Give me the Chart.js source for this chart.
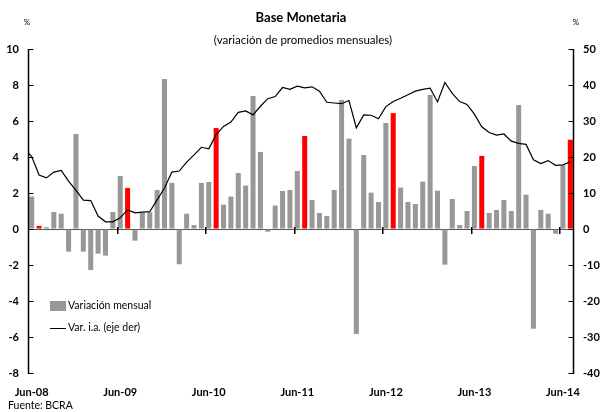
<!DOCTYPE html>
<html lang="es">
<head>
  <meta charset="UTF-8">
  <title>Base Monetaria</title>
  <script src="https://cdn.jsdelivr.net/npm/chart.js"></script>
  <style>
    html, body { margin: 0; padding: 0; background: #fff; }
    canvas { display: block; }
  </style>
</head>
<body>
  <canvas id="bmChart" width="603" height="412"></canvas>

<script>
  // tick labels, one every 12 months
  const tickLabels = ['Jun-08', 'Jun-09', 'Jun-10', 'Jun-11', 'Jun-12', 'Jun-13', 'Jun-14'];

  // monthly change (%), left axis
  const variacionMensual = [
    1.8, 0.17, 0.1, 0.94, 0.85, -1.26, 5.28, -1.26, -2.28, -1.37, -1.48, 0.94,
    2.94, 2.28, -0.65, 0.9, 0.93, 2.17, 8.33, 2.56, -1.96, 0.85, 0.22, 2.56,
    2.61, 5.61, 1.35, 1.8, 3.11, 2.41, 7.39, 4.28, -0.15, 1.3, 2.11, 2.17,
    3.22, 5.17, 1.61, 0.89, 0.72, 2.17, 7.17, 5.02, -5.83, 4.11, 2.02, 1.5,
    5.89, 6.44, 2.3, 1.5, 1.39, 2.63, 7.44, 2.13, -1.98, 1.67, 0.22, 1.0,
    3.5, 4.06, 0.89, 1.06, 1.61, 1.0, 6.89, 1.91, -5.54, 1.06, 0.85, -0.26,
    3.54, 4.96
  ];

  // year-on-year change (%), right axis; first value is the month before the first bar
  const varInteranual = [
    22.3,
    20.1, 15.0, 14.2, 15.8, 16.3, 13.3, 10.7, 8.0, 7.9, 3.6, 2.0, 2.0,
    3.1, 5.3, 4.5, 4.7, 4.8, 8.1, 11.4, 15.8, 16.1, 18.6, 20.6, 22.7,
    22.3, 26.2, 28.5, 29.7, 32.4, 32.8, 31.7, 34.1, 36.2, 36.8, 39.3, 38.8,
    39.7, 39.2, 39.5, 38.3, 35.2, 35.0, 34.8, 35.7, 28.1, 31.7, 31.6, 30.6,
    34.0, 35.4, 36.3, 37.3, 38.3, 38.8, 39.1, 35.3, 40.7, 37.7, 35.4, 34.6,
    31.9, 28.4, 26.8, 26.1, 26.4, 24.4, 23.8, 23.5, 19.2, 18.2, 19.0, 17.7,
    17.8, 18.7
  ];

  // months drawn in red
  const destacados = [1, 13, 25, 37, 49, 61, 73];

  const FONT = 'Lato, "Open Sans", sans-serif';
  const GRAY = '#989898';
  const RED = '#ff0000';

  const barData = variacionMensual.map((v, i) => ({ x: i + 0.5, y: v }));
  const lineData = varInteranual.map((v, i) => ({ x: i - 0.5, y: v }));
  const barColors = variacionMensual.map((v, i) => destacados.includes(i) ? RED : GRAY);

  const decor = {
    id: 'decor',
    afterDraw(chart) {
      const { ctx, chartArea: a, scales } = chart;
      ctx.save();
      ctx.fillStyle = '#000';
      ctx.textBaseline = 'middle';

      // titles
      ctx.textAlign = 'center';
      ctx.font = 'bold 13px ' + FONT;
      ctx.fillText('Base Monetaria', 301, 18);
      ctx.font = '11.5px ' + FONT;
      ctx.fillText('(variación de promedios mensuales)', 303, 40);
      ctx.font = '8px ' + FONT;
      ctx.fillText('%', 27, 22);
      ctx.fillText('%', 576, 22);

      ctx.textAlign = 'left';
      ctx.font = '10.5px ' + FONT;
      ctx.fillText('Fuente: BCRA', 8, 406);

      // axis lines
      const xl = Math.round(a.left) + 0.5, xr = Math.round(a.right) - 0.5;
      ctx.strokeStyle = '#000';
      ctx.lineWidth = 1.5;
      ctx.beginPath();
      ctx.moveTo(xl, a.top); ctx.lineTo(xl, a.bottom + 1);
      ctx.moveTo(xr, a.top); ctx.lineTo(xr, a.bottom + 1);
      ctx.stroke();

      // inside tick marks
      scales.y.ticks.forEach(t => {
        ctx.fillRect(xl, Math.round(scales.y.getPixelForValue(t.value)), 5, 1);
      });
      scales.y2.ticks.forEach(t => {
        ctx.fillRect(xr - 5, Math.round(scales.y2.getPixelForValue(t.value)), 5, 1);
      });
      // year marks on the zero line
      const y0 = Math.round(scales.y.getPixelForValue(0));
      for (let k = 1; k < tickLabels.length; k++) {
        ctx.fillRect(Math.round(scales.x.getPixelForValue(k * 12)), y0 - 2, 1.5, 7);
      }

      // legend
      const lx = a.left + 22, ly = a.top + 257;
      ctx.fillStyle = GRAY;
      ctx.fillRect(lx, ly - 5, 16, 10);
      ctx.fillStyle = '#000';
      ctx.fillRect(lx, ly + 22, 16, 1);
      ctx.font = '10.5px ' + FONT;
      ctx.fillText(chart.data.datasets[1].label, lx + 18, ly);
      ctx.fillText(chart.data.datasets[0].label, lx + 18, ly + 22);

      ctx.restore();
    }
  };

  new Chart(document.getElementById('bmChart'), {
    type: 'bar',
    data: {
      datasets: [
        {
          type: 'line',
          label: 'Var. i.a. (eje der)',
          data: lineData,
          yAxisID: 'y2',
          borderColor: '#000',
          borderWidth: 1.2,
          pointRadius: 0,
          tension: 0,
          fill: false
        },
        {
          label: 'Variación mensual',
          data: barData,
          yAxisID: 'y',
          backgroundColor: barColors,
          categoryPercentage: 1,
          barPercentage: 0.68
        }
      ]
    },
    options: {
      responsive: false,
      animation: false,
      devicePixelRatio: 1,
      layout: { padding: { top: 49, left: 0, right: 0, bottom: 0 } },
      plugins: {
        legend: { display: false },
        title: { display: false },
        tooltip: { enabled: false }
      },
      scales: {
        x: {
          type: 'linear',
          min: 0,
          max: 74,
          offset: false,
          afterFit: s => { s.height = 39; },
          afterBuildTicks: s => { s.ticks = tickLabels.map((l, k) => ({ value: k * 12 + 0.5 })); },
          grid: { display: false, drawTicks: false },
          border: { display: false },
          ticks: {
            autoSkip: false,
            maxRotation: 0,
            padding: 13,
            color: '#000',
            font: { family: FONT, size: 11, weight: 'bold' },
            callback: (v, i) => tickLabels[i]
          }
        },
        y: {
          position: 'left',
          min: -8,
          max: 10,
          afterFit: s => { s.width = 28; },
          grid: {
            drawTicks: false,
            color: c => c.tick.value === 0 ? '#555' : 'rgba(0,0,0,0)'
          },
          border: { display: false },
          ticks: {
            stepSize: 2,
            padding: 9,
            color: '#000',
            font: { family: FONT, size: 11, weight: 'bold' }
          }
        },
        y2: {
          position: 'right',
          min: -40,
          max: 50,
          afterFit: s => { s.width = 29; },
          grid: { display: false, drawTicks: false },
          border: { display: false },
          ticks: {
            stepSize: 10,
            padding: 9,
            color: '#000',
            font: { family: FONT, size: 11, weight: 'bold' }
          }
        }
      }
    },
    plugins: [decor]
  });
</script>

</body>
</html>
